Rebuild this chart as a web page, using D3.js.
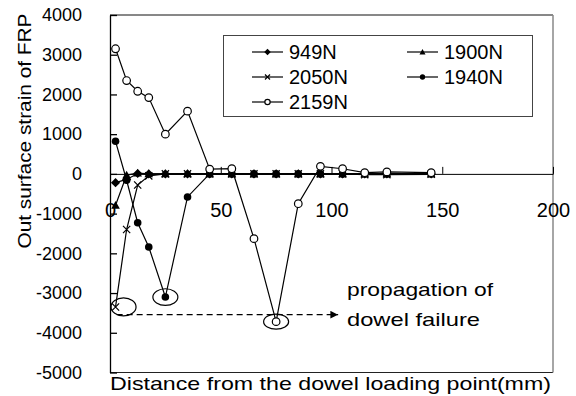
<!DOCTYPE html>
<html>
<head>
<meta charset="utf-8" />
<script src="https://d3js.org/d3.v7.min.js"></script>
<style>
  body { margin: 0; background: #fff; }
  text { font-family: "Liberation Sans", Arial, sans-serif; fill: #000; }
</style>
</head>
<body>
<div id="chart"></div>
<script>
// distances along the dowel (mm)
var distance = [2.5, 7.5, 12.5, 17.5, 25, 35, 45, 55, 65, 75, 85, 95, 105, 115, 125, 145];

// strain values for each load level
var s949  = [-220, -140, 10, 0, 0, 0, 0, 0, 0, 0, 0, 0, 0, 0, 0, 0];
var s1900 = [-790, -30, 20, 0, 0, 0, 0, 0, 0, 0, 0, 0, 0, 0, 0, 0];
var s2050 = [-3350, -1400, -280, -50, 0, 0, 0, 0, 0, 0, 0, 0, 0, -20, -20, -10];
var s1940 = [820, -160, -1230, -1840, -3100, -580, 0, 0, 0, 0, 0, 0, 0, 0, 0, 0];
var s2159 = [3150, 2350, 2080, 1920, 1000, 1580, 120, 130, -1630, -3720, -750, 190, 130, 30, 50, 30];

var seriesNames = ["949N", "1900N", "2050N", "1940N", "2159N"];
var seriesValues = [s949, s1900, s2050, s1940, s2159];
var seriesMarkers = ["diamond", "triangle", "cross", "dot", "circle"];

var yTicks = [4000, 3000, 2000, 1000, 0, -1000, -2000, -3000, -4000, -5000];
var xTicks = [0, 50, 100, 150, 200];

var width = 576, height = 396;
var margin = {top: 15, right: 23, bottom: 23.5, left: 110};

var svg = d3.select("#chart").append("svg")
    .attr("width", width)
    .attr("height", height);

var x = d3.scaleLinear().domain([0, 200]).range([margin.left, width - margin.right]);
var y = d3.scaleLinear().domain([-5000, 4000]).range([height - margin.bottom, margin.top]);

// frame: top, bottom, right
svg.append("line").attr("x1", x(0)).attr("x2", x(200)).attr("y1", y(4000)).attr("y2", y(4000))
    .attr("stroke", "#111");
svg.append("line").attr("x1", x(0)).attr("x2", x(200)).attr("y1", y(-5000)).attr("y2", y(-5000))
    .attr("stroke", "#222");
svg.append("line").attr("x1", x(200)).attr("x2", x(200)).attr("y1", y(4000)).attr("y2", y(-5000))
    .attr("stroke", "#888").attr("stroke-width", 1.5);

// plain number labels (hyphen minus, no thousands separator)
var plain = function(d) { return String(d); };

// y axis, ticks pointing in
var yAxis = svg.append("g")
    .attr("transform", "translate(" + x(0) + ",0)")
    .call(d3.axisLeft(y).tickValues(yTicks).tickFormat(plain).tickSizeInner(-7).tickSizeOuter(0).tickPadding(28));
yAxis.selectAll("text").style("font-size", "18px").style("font-family", "Liberation Sans, Arial, sans-serif");
yAxis.selectAll("path, line").attr("stroke", "#000").attr("stroke-width", 1.3);

// x axis sits on the zero line, ticks point up
var xAxis = svg.append("g")
    .attr("transform", "translate(0," + y(0) + ")")
    .call(d3.axisBottom(x).tickValues(xTicks).tickFormat(plain).tickSizeInner(-7).tickSizeOuter(0).tickPadding(29));
xAxis.selectAll("text").style("font-size", "20px").style("font-family", "Liberation Sans, Arial, sans-serif");
xAxis.selectAll("path, line").attr("stroke", "#000");

// axis titles
svg.append("text")
    .attr("x", x(0))
    .attr("y", 390)
    .attr("textLength", 441)
    .attr("lengthAdjust", "spacingAndGlyphs")
    .style("font-size", "19px")
    .text("Distance from the dowel loading point(mm)");

svg.append("text")
    .attr("transform", "translate(31,131) rotate(-90)")
    .attr("text-anchor", "middle")
    .attr("textLength", 235)
    .attr("lengthAdjust", "spacingAndGlyphs")
    .style("font-size", "19px")
    .text("Out surface strain of FRP");

// marker drawing
function drawMarker(g, type, cx, cy, k) {
  k = k || 1;
  if (type == "diamond") {
    var r = 4.6 * k;
    g.append("path")
      .attr("d", "M" + cx + "," + (cy - r) + "L" + (cx + r) + "," + cy + "L" + cx + "," + (cy + r) + "L" + (cx - r) + "," + cy + "Z")
      .attr("fill", "#000");
  } else if (type == "triangle") {
    var t = 4.3 * k;
    g.append("path")
      .attr("d", "M" + cx + "," + (cy - t) + "L" + (cx + t) + "," + (cy + t * 0.8) + "L" + (cx - t) + "," + (cy + t * 0.8) + "Z")
      .attr("fill", "#000");
  } else if (type == "cross") {
    var c = 3.6 * k;
    g.append("path")
      .attr("d", "M" + (cx - c) + "," + (cy - c) + "L" + (cx + c) + "," + (cy + c) + "M" + (cx - c) + "," + (cy + c) + "L" + (cx + c) + "," + (cy - c))
      .attr("stroke", "#000").attr("stroke-width", 1.2).attr("fill", "none");
  } else if (type == "dot") {
    g.append("circle").attr("cx", cx).attr("cy", cy).attr("r", 3.8 * k).attr("fill", "#000");
  } else {
    g.append("circle").attr("cx", cx).attr("cy", cy).attr("r", 3.8 * k)
      .attr("fill", "#fff").attr("stroke", "#000").attr("stroke-width", 1.2);
  }
}

var line = d3.line()
    .x(function(d) { return x(d[0]); })
    .y(function(d) { return y(d[1]); });

seriesValues.forEach(function(vals, i) {
  var pts = distance.map(function(d, j) { return [d, vals[j]]; });
  var g = svg.append("g");
  g.append("path")
    .datum(pts)
    .attr("d", line)
    .attr("fill", "none")
    .attr("stroke", "#000")
    .attr("stroke-width", 1.2);
  pts.forEach(function(p) {
    drawMarker(g, seriesMarkers[i], x(p[0]), y(p[1]));
  });
});

// annotation: circled peaks and propagation arrow
var peaks = [[2.5, -3350, 8, 12.5, 9], [25, -3100, 0, 12.5, 8.3], [75, -3720, 0, 12.5, 7.5]];
peaks.forEach(function(p) {
  svg.append("ellipse")
    .attr("cx", x(p[0]) + p[2])
    .attr("cy", y(p[1]))
    .attr("rx", p[3])
    .attr("ry", p[4])
    .attr("fill", "none")
    .attr("stroke", "#000")
    .attr("stroke-width", 1.2);
});

svg.append("defs").append("marker")
    .attr("id", "arrow")
    .attr("viewBox", "0 0 10 10")
    .attr("refX", 10).attr("refY", 5)
    .attr("markerWidth", 6).attr("markerHeight", 6)
    .attr("orient", "auto")
  .append("path")
    .attr("d", "M0,0L10,5L0,10Z")
    .attr("fill", "#000");

svg.append("line")
    .attr("x1", x(3)).attr("x2", x(103))
    .attr("y1", y(-3545)).attr("y2", y(-3545))
    .attr("stroke", "#000")
    .attr("stroke-width", 1.3)
    .attr("stroke-dasharray", "6,4")
    .attr("marker-end", "url(#arrow)");

svg.append("text")
    .attr("x", 347).attr("y", 296)
    .attr("textLength", 146)
    .attr("lengthAdjust", "spacingAndGlyphs")
    .style("font-size", "19px")
    .text("propagation of");
svg.append("text")
    .attr("x", 347).attr("y", 326)
    .attr("textLength", 133)
    .attr("lengthAdjust", "spacingAndGlyphs")
    .style("font-size", "19px")
    .text("dowel failure");

// legend
var legend = svg.append("g");
legend.append("rect")
    .attr("x", 223.5).attr("y", 35.5)
    .attr("width", 309).attr("height", 81)
    .attr("fill", "#fff")
    .attr("stroke", "#444");

var legendPos = [[252, 52], [407, 52], [252, 77], [407, 77], [252, 102]];
seriesNames.forEach(function(name, i) {
  var lx = legendPos[i][0], ly = legendPos[i][1];
  legend.append("line")
    .attr("x1", lx).attr("x2", lx + 31)
    .attr("y1", ly).attr("y2", ly)
    .attr("stroke", "#000").attr("stroke-width", 1.2);
  drawMarker(legend, seriesMarkers[i], lx + 15.5, ly, 0.7);
  legend.append("text")
    .attr("x", lx + 37)
    .attr("y", ly)
    .attr("dy", "0.36em")
    .style("font-size", "20px")
    .text(name);
});
</script>
</body>
</html>
